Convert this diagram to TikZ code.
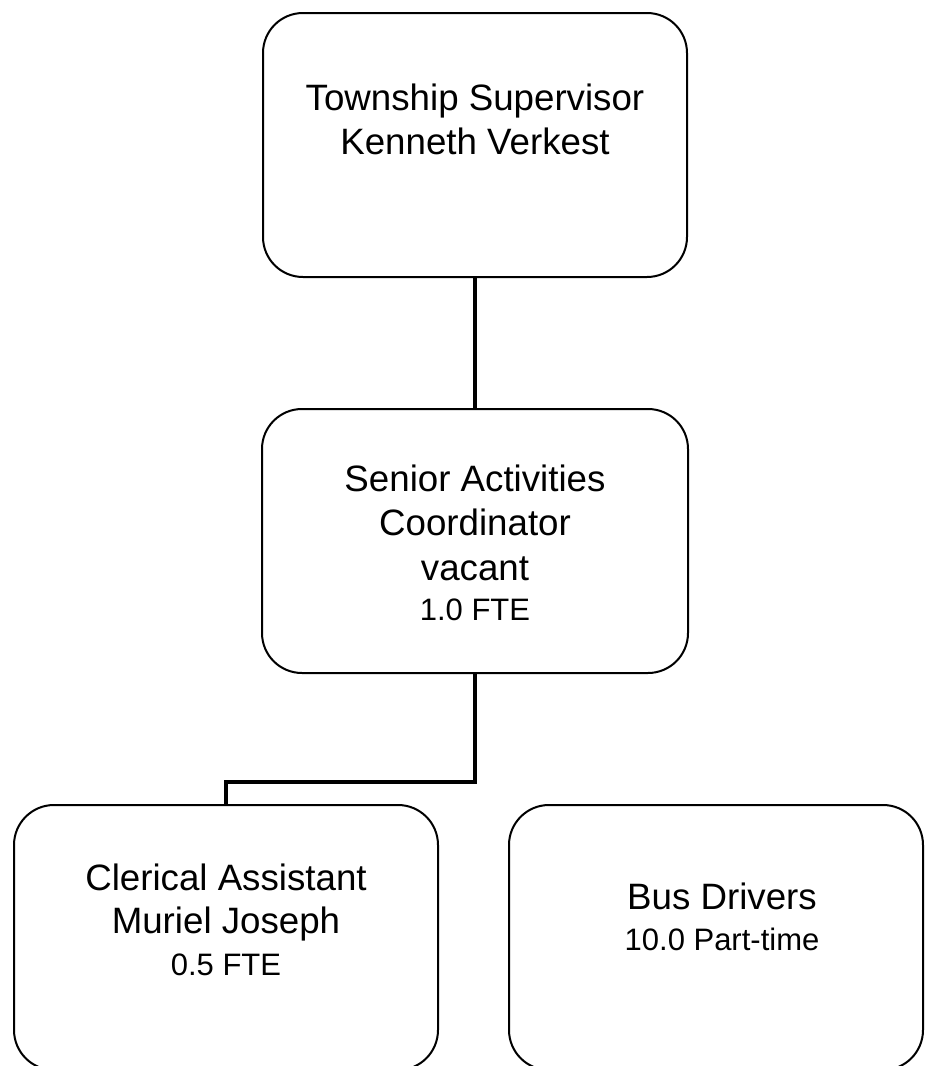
\documentclass[tikz,border=0pt]{standalone}
\usepackage{fontspec}
\setmainfont{Liberation Sans}
\begin{document}
\begin{tikzpicture}[x=1pt,y=-1pt,
  orgbox/.style={draw=black, line width=2pt, rounded corners=40pt, inner sep=0pt, fill=none},
  bigtxt/.style={font=\fontsize{36.7}{44}\selectfont, inner sep=0pt, anchor=base},
  smalltxt/.style={font=\fontsize{31}{36}\selectfont, inner sep=0pt, anchor=base},
  link/.style={draw=black, line width=4.8pt}]
\useasboundingbox (0,0) rectangle (925,1066);
\clip (0,0) rectangle (925,1066);
\fill[white] (0,0) rectangle (925,1066);

% boxes
\node[orgbox, minimum width=424pt, minimum height=264pt] (sup) at (475,145) {};
\node[orgbox, minimum width=426pt, minimum height=264pt] (coord) at (475,541) {};
\node[orgbox, minimum width=424pt, minimum height=265pt] (clerk) at (226,937.5) {};
\node[orgbox, minimum width=414pt, minimum height=265pt] (bus) at (716,937.5) {};

% texts
\node[bigtxt] (supA) at (475,110) {Township Supervisor};
\node[bigtxt] (supB) at (475,154) {Kenneth Verkest};

\node[bigtxt] (coordA) at (475,491) {Senior Activities};
\node[bigtxt] (coordB) at (475,535) {Coordinator};
\node[bigtxt] (coordC) at (475,580) {vacant};
\node[smalltxt] (coordD) at (475,620) {1.0 FTE};

\node[bigtxt] (clerkA) at (226,890) {Clerical Assistant};
\node[bigtxt] (clerkB) at (226,933) {Muriel Joseph};
\node[smalltxt] (clerkC) at (226,975) {0.5 FTE};

\node[bigtxt] (busA) at (722,909) {Bus Drivers};
\node[smalltxt] (busB) at (722,950) {10.0 Part-time};

% connectors
\draw[link] (sup.south) -- (coord.north);
\draw[link] (coord.south) -- ++(0,108) -| (clerk.north);
\end{tikzpicture}
\end{document}
